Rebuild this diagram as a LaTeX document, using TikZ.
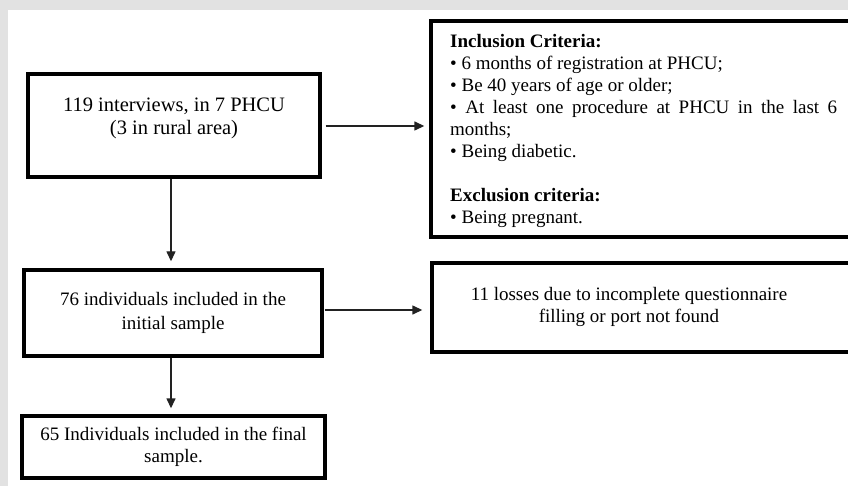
\documentclass[tikz,border=0pt]{standalone}
\usepackage{fontspec}
\setmainfont{Liberation Serif}
\usetikzlibrary{arrows.meta}
\definecolor{bggray}{HTML}{E2E2E2}
\definecolor{arrgray}{HTML}{222222}
\begin{document}
\begin{tikzpicture}[x=1pt,y=-1pt,
  box/.style={draw=black,line width=3.4pt,fill=white,inner sep=0pt,align=center},
  arr/.style={draw=arrgray,line width=1.4pt,-{Triangle[length=10pt,width=9pt]}},
  txt/.style={inner sep=0pt,align=center,font=\fontsize{19}{23}\selectfont}]
\useasboundingbox (0,0) rectangle (848,486);
\fill[bggray] (0,0) rectangle (848,486);
\fill[white] (8,10) rectangle (848,486);
\clip (0,0) rectangle (848,486);
% boxes
\node[box,minimum width=292pt,minimum height=103pt] (b1) at (174,125.5) {};
\node[txt,font=\fontsize{20.5}{23}\selectfont] (t1) at (174,118) {119 interviews, in 7 PHCU\\(3 in rural area)};
\node[box,minimum width=425pt,minimum height=216pt] (inc) at (643.5,129) {};
\node[inner sep=0pt,anchor=north west,text width=387pt,align=justify,
      font=\fontsize{19}{22}\selectfont] (tinc) at (450,34) {%
\textbf{Inclusion Criteria:}\\
• 6 months of registration at PHCU;\\
• Be 40 years of age or older;\\
• At least one procedure at PHCU in the last 6\linebreak months;\\
• Being diabetic.\\[22pt]
\textbf{Exclusion criteria:}\\
• Being pregnant.};
\node[box,minimum width=298pt,minimum height=86pt,font=\fontsize{19}{24}\selectfont] (b2) at (173,313) {76 individuals included in the\\initial sample};
\node[box,minimum width=424pt,minimum height=89pt] (loss) at (644,307.5) {};
\node[txt,font=\fontsize{19}{22}\selectfont] (tloss) at (629,307) {11 losses due to incomplete questionnaire\\filling or port not found};
\node[box,minimum width=303pt,minimum height=62pt,font=\fontsize{19}{22}\selectfont] (b3) at (173.5,447) {65 Individuals included in the final\\sample.};
% connectors
\draw[arr,shorten <=4pt,shorten >=5pt] ([yshift=-0.5pt]b1.east) -- ([yshift=-0.5pt]b1.east -| inc.west);
\draw[arr,shorten >=7pt] ([xshift=-3pt]b1.south) -- ([xshift=-3pt]b1.south |- b2.north);
\draw[arr,shorten <=1pt,shorten >=8pt] ([yshift=3pt]b2.east) -- ([yshift=3pt]b2.east -| loss.west);
\draw[arr,shorten >=6pt] ([xshift=-2pt]b2.south) -- ([xshift=-2pt]b2.south |- b3.north);
\end{tikzpicture}
\end{document}
